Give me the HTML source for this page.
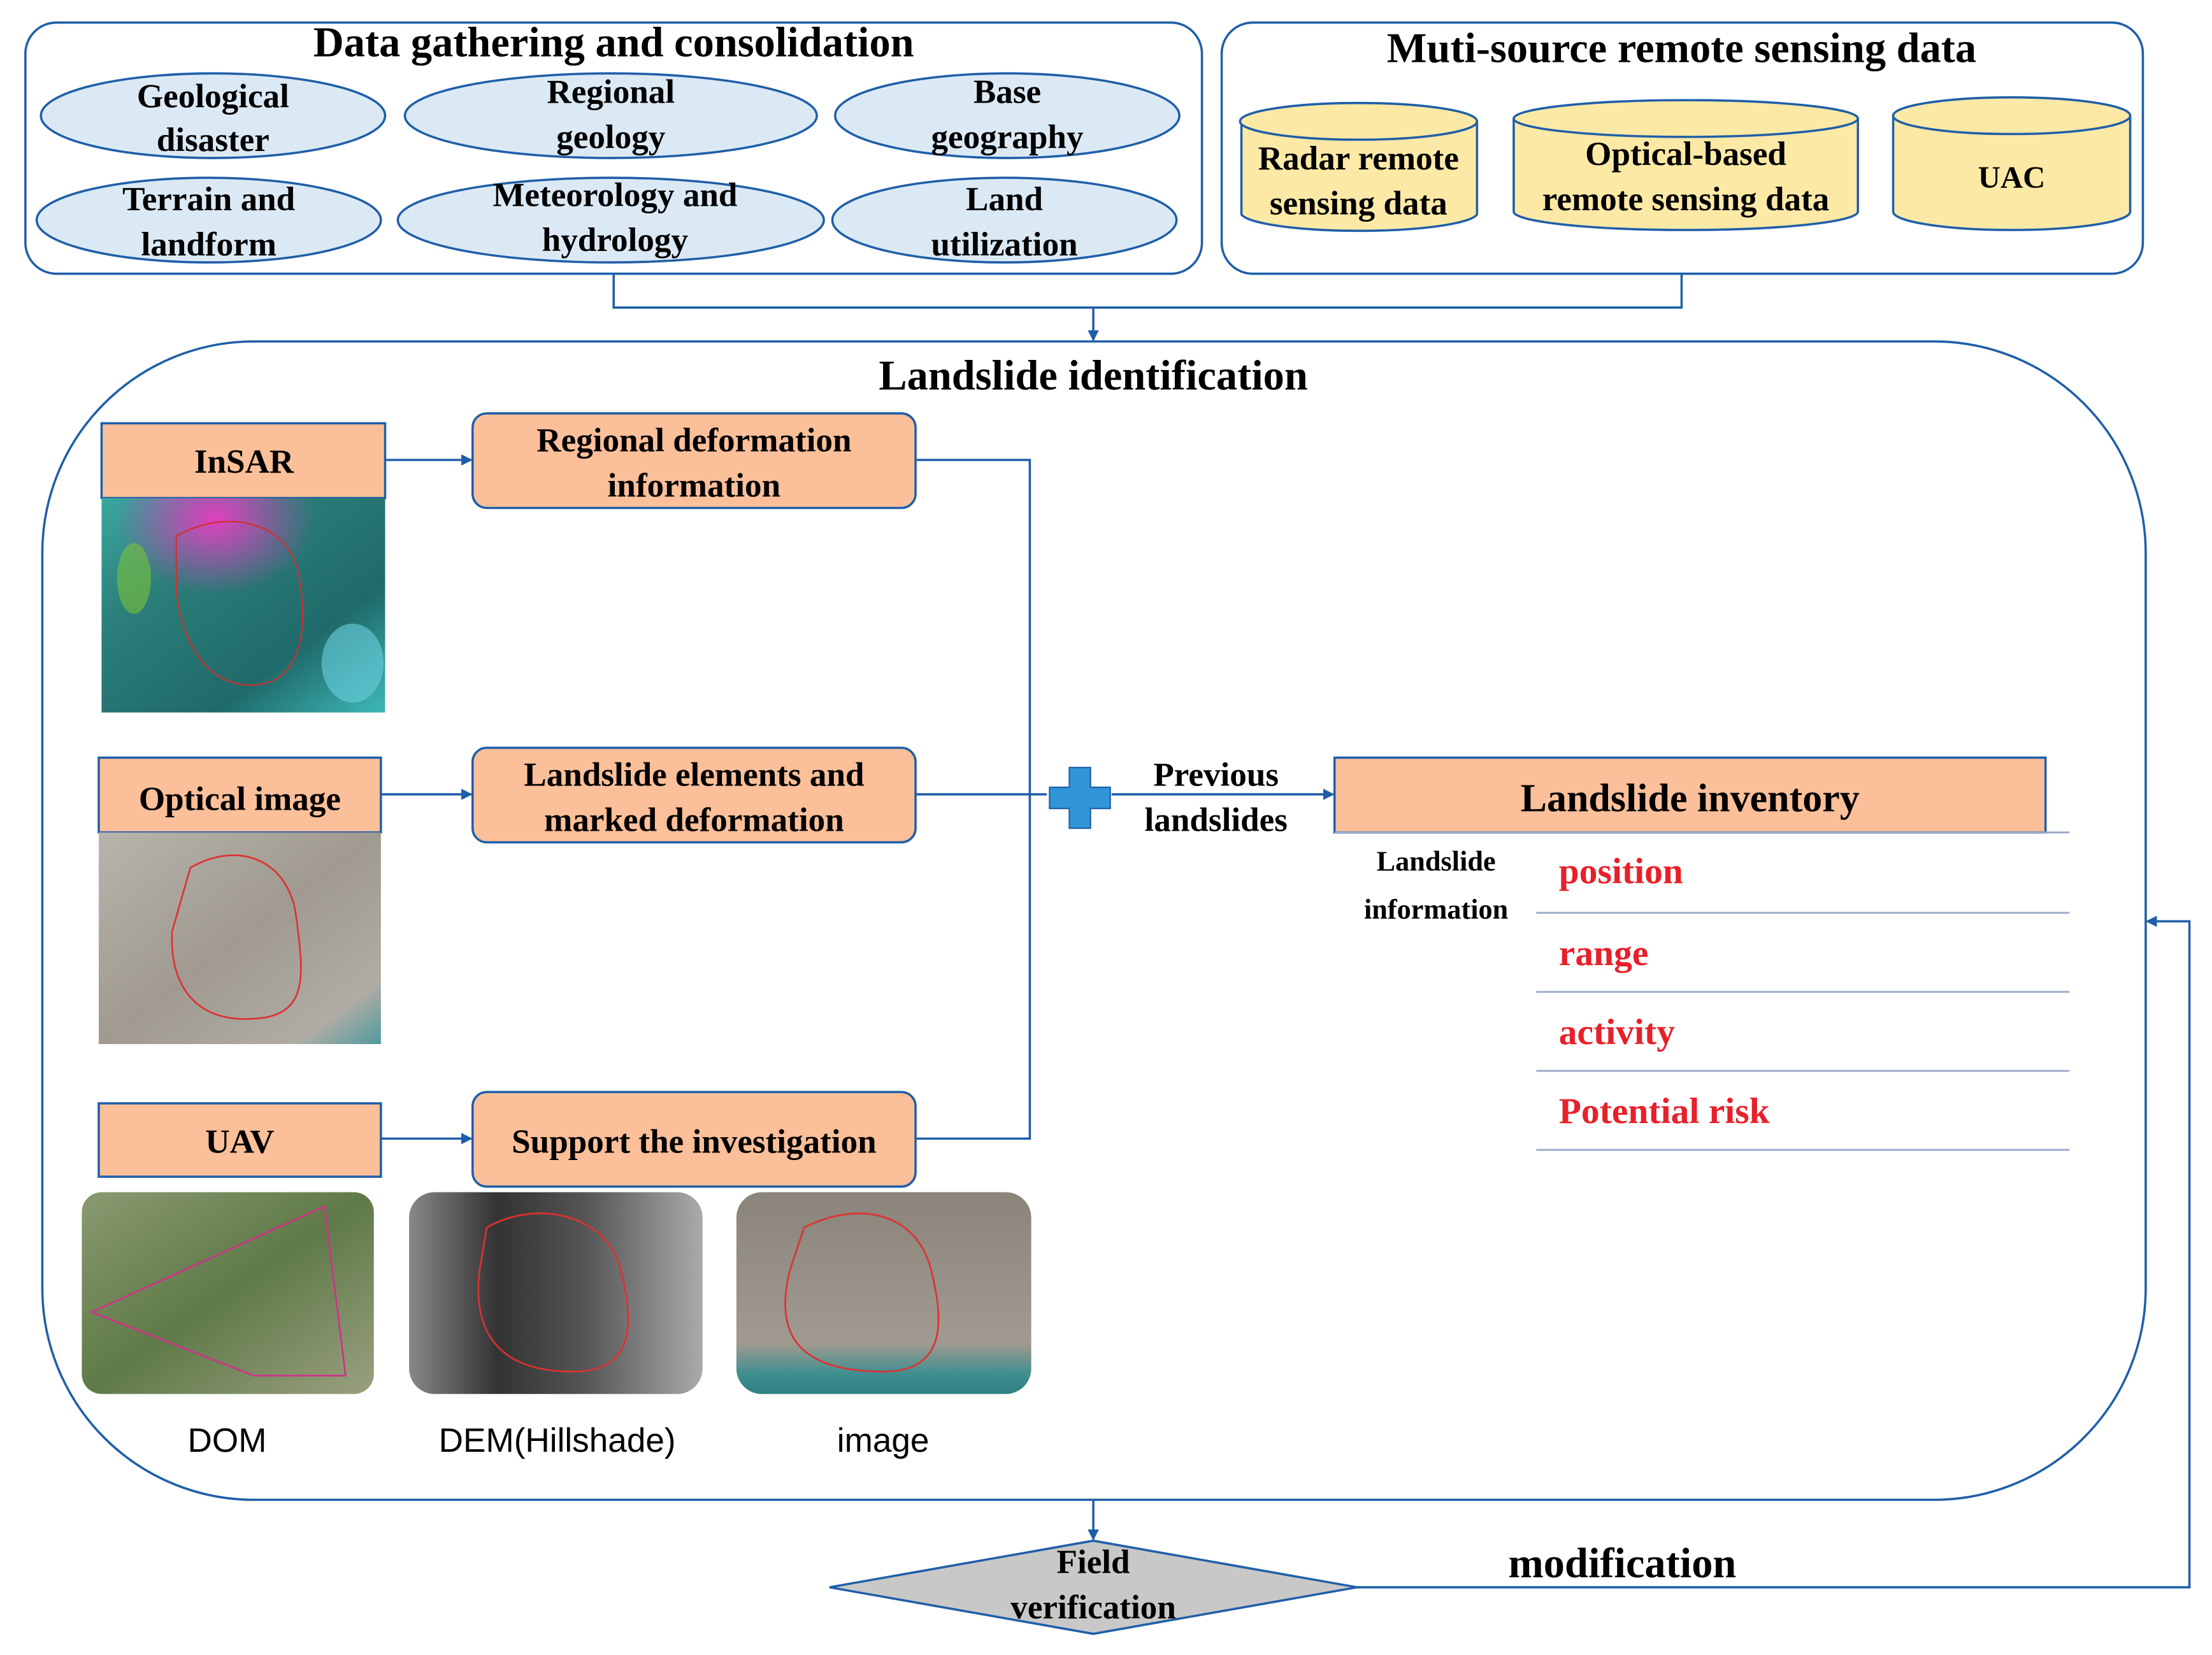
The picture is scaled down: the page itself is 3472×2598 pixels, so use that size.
<!DOCTYPE html>
<html><head><meta charset="utf-8">
<style>
html,body{margin:0;padding:0;background:#fff;}
svg{display:block;}
.t{font-family:"Liberation Serif",serif;font-weight:bold;fill:#000;text-anchor:middle;}
.s{font-family:"Liberation Sans",sans-serif;fill:#000;text-anchor:middle;}
.r{font-family:"Liberation Serif",serif;font-weight:bold;fill:#e8202a;}
</style></head><body>
<svg width="3472" height="2598" viewBox="0 0 1568 1173" preserveAspectRatio="none" xmlns="http://www.w3.org/2000/svg">
<defs>
<marker id="a" markerWidth="8" markerHeight="8" refX="7" refY="4" orient="auto" markerUnits="userSpaceOnUse"><path d="M0,0 L8,4 L0,8z" fill="#1f5fa8"/></marker>
<linearGradient id="ins" x1="0" y1="0" x2="1" y2="1"><stop offset="0" stop-color="#3aa8a0"/><stop offset="0.3" stop-color="#2c7f7a"/><stop offset="0.7" stop-color="#1f6a6a"/><stop offset="1" stop-color="#3fb8b8"/></linearGradient>
<radialGradient id="mag" cx="0.4" cy="0.1" r="0.35"><stop offset="0" stop-color="#e040c0"/><stop offset="1" stop-color="#e040c0" stop-opacity="0"/></radialGradient>
<linearGradient id="opt" x1="0" y1="0" x2="1" y2="1"><stop offset="0" stop-color="#b8b4ac"/><stop offset="0.5" stop-color="#a09a90"/><stop offset="0.85" stop-color="#b0aca4"/><stop offset="1" stop-color="#4f9aa0"/></linearGradient>
<linearGradient id="dom" x1="0" y1="0" x2="1" y2="1"><stop offset="0" stop-color="#8a9a70"/><stop offset="0.5" stop-color="#5f7a48"/><stop offset="1" stop-color="#9aa080"/></linearGradient>
<linearGradient id="dem" x1="0" y1="0" x2="1" y2="0"><stop offset="0" stop-color="#888"/><stop offset="0.3" stop-color="#333"/><stop offset="0.6" stop-color="#555"/><stop offset="1" stop-color="#aaa"/></linearGradient>
<linearGradient id="img" x1="0" y1="0" x2="0" y2="1"><stop offset="0" stop-color="#8a847a"/><stop offset="0.75" stop-color="#a09a90"/><stop offset="0.9" stop-color="#3f8f90"/><stop offset="1" stop-color="#2f8080"/></linearGradient>
</defs>
<g fill="none" stroke="#1f5fa8" stroke-width="1.6">
<rect x="18" y="16" width="834" height="178" rx="22"/>
<rect x="866" y="16" width="653" height="178" rx="22"/>
<rect x="30" y="242" width="1491" height="821" rx="150"/>
<polyline points="435,194 435,218 1192,218 1192,194"/>
<line x1="775" y1="218" x2="775" y2="241" marker-end="url(#a)"/>
</g>
<text class="t" x="435" y="40" font-size="30">Data gathering and consolidation</text>
<text class="t" x="1192" y="44" font-size="30">Muti-source remote sensing data</text>
<g fill="#dbe9f5" stroke="#1f5fa8" stroke-width="1.6">
<ellipse cx="151" cy="82" rx="122" ry="30"/><ellipse cx="433" cy="82" rx="146" ry="30"/><ellipse cx="714" cy="82" rx="122" ry="30"/>
<ellipse cx="148" cy="156" rx="122" ry="30"/><ellipse cx="433" cy="156" rx="151" ry="30"/><ellipse cx="712" cy="156" rx="122" ry="30"/>
</g>
<g class="t" font-size="24">
<text x="151" y="76">Geological</text><text x="151" y="107">disaster</text>
<text x="433" y="73">Regional</text><text x="433" y="105">geology</text>
<text x="714" y="73">Base</text><text x="714" y="105">geography</text>
<text x="148" y="149">Terrain and</text><text x="148" y="181">landform</text>
<text x="436" y="146">Meteorology and</text><text x="436" y="178">hydrology</text>
<text x="712" y="149">Land</text><text x="712" y="181">utilization</text>
</g>
<g fill="#fde9a6" stroke="#1f5fa8" stroke-width="1.6">
<path d="M880,86 V152 A84,13 0 0 0 1047,152 V86"/><ellipse cx="963" cy="86" rx="84" ry="13"/>
<path d="M1073,84 V150 A122,13 0 0 0 1317,150 V84"/><ellipse cx="1195" cy="84" rx="122" ry="13"/>
<path d="M1342,82 V150 A84,13 0 0 0 1510,150 V82"/><ellipse cx="1426" cy="82" rx="84" ry="13"/>
</g>
<g class="t" font-size="24">
<text x="963" y="120">Radar remote</text><text x="963" y="152">sensing data</text>
<text x="1195" y="117">Optical-based</text><text x="1195" y="149">remote sensing data</text>
<text x="1426" y="133" font-size="22">UAC</text>
</g>
<text class="t" x="775" y="276" font-size="30">Landslide identification</text>
<g fill="#fbbf99" stroke="#1f5fa8" stroke-width="1.6">
<rect x="72" y="300" width="201" height="53"/>
<rect x="335" y="293" width="314" height="67" rx="10"/>
<rect x="70" y="537" width="200" height="53"/>
<rect x="335" y="530" width="314" height="67" rx="10"/>
<rect x="70" y="782" width="200" height="52"/>
<rect x="335" y="774" width="314" height="67" rx="10"/>
<rect x="946" y="537" width="504" height="53"/>
</g>
<polygon points="588,1125 775,1092 962,1125 775,1158" fill="#c8c8c8" stroke="#1f5fa8" stroke-width="1.6"/>
<g class="t" font-size="24">
<text x="173" y="335">InSAR</text>
<text x="492" y="320">Regional deformation</text><text x="492" y="352">information</text>
<text x="170" y="574">Optical image</text>
<text x="492" y="557">Landslide elements and</text><text x="492" y="589">marked deformation</text>
<text x="170" y="817">UAV</text>
<text x="492" y="817">Support  the investigation</text>
<text x="1198" y="575" font-size="28">Landslide inventory</text>
<text x="862" y="557">Previous</text><text x="862" y="589">landslides</text>
<text x="1018" y="617" font-size="20">Landslide</text><text x="1018" y="651" font-size="20">information</text>
<text x="775" y="1115">Field</text><text x="775" y="1147">verification</text>
<text x="1150" y="1118" font-size="30">modification</text>
</g>
<g fill="none" stroke="#1f5fa8" stroke-width="1.6">
<line x1="273" y1="326" x2="334" y2="326" marker-end="url(#a)"/>
<line x1="270" y1="563" x2="334" y2="563" marker-end="url(#a)"/>
<line x1="270" y1="807" x2="334" y2="807" marker-end="url(#a)"/>
<polyline points="649,326 730,326 730,807 649,807"/>
<line x1="649" y1="563" x2="742" y2="563"/>
<line x1="788" y1="563" x2="945" y2="563" marker-end="url(#a)"/>
<line x1="775" y1="1063" x2="775" y2="1091" marker-end="url(#a)"/>
<polyline points="962,1125 1552,1125 1552,653 1522,653" marker-end="url(#a)"/>
</g>
<path d="M758,544 h15 v14 h14 v15 h-14 v14 h-15 v-14 h-14 v-15 h14z" fill="#2f95d8" stroke="#1f5fa8" stroke-width="1"/>
<g stroke="#9aa8c8" stroke-width="1.3">
<line x1="946" y1="590" x2="1467" y2="590"/>
<line x1="1089" y1="647" x2="1467" y2="647"/><line x1="1089" y1="703" x2="1467" y2="703"/>
<line x1="1089" y1="759" x2="1467" y2="759"/><line x1="1089" y1="815" x2="1467" y2="815"/>
</g>
<g class="r" font-size="26">
<text x="1105" y="626">position</text><text x="1105" y="684">range</text>
<text x="1105" y="740">activity</text><text x="1105" y="796">Potential risk</text>
</g>
<rect x="72" y="353" width="201" height="152" fill="url(#ins)"/>
<rect x="72" y="353" width="201" height="152" fill="url(#mag)"/>
<ellipse cx="95" cy="410" rx="12" ry="25" fill="#7cc23a" opacity="0.6"/>
<ellipse cx="250" cy="470" rx="22" ry="28" fill="#6ad0e0" opacity="0.6"/>
<path d="M125,380 C160,360 200,370 210,400 C220,440 215,480 185,485 C150,490 130,460 125,420z" fill="none" stroke="#d03030" stroke-width="1"/>
<rect x="70" y="590" width="200" height="150" fill="url(#opt)"/>
<path d="M135,615 C170,595 205,610 210,650 C215,690 220,720 180,722 C140,725 120,700 122,660z" fill="none" stroke="#e03030" stroke-width="1.2"/>
<rect x="58" y="845" width="207" height="143" rx="14" fill="url(#dom)"/>
<path d="M65,930 L230,855 L245,975 L180,975z" fill="none" stroke="#d0308a" stroke-width="1.2"/>
<rect x="290" y="845" width="208" height="143" rx="18" fill="url(#dem)"/>
<path d="M345,870 C380,850 430,860 440,900 C450,940 450,975 400,972 C350,970 335,940 340,900z" fill="none" stroke="#e03030" stroke-width="1.2"/>
<rect x="522" y="845" width="209" height="143" rx="18" fill="url(#img)"/>
<path d="M570,870 C610,850 650,860 660,900 C670,940 670,975 620,972 C560,970 550,940 560,900z" fill="none" stroke="#e03030" stroke-width="1.2"/>
<g class="s" font-size="24">
<text x="161" y="1029">DOM</text><text x="395" y="1029">DEM(Hillshade)</text><text x="626" y="1029">image</text>
</g>
</svg>
</body></html>
